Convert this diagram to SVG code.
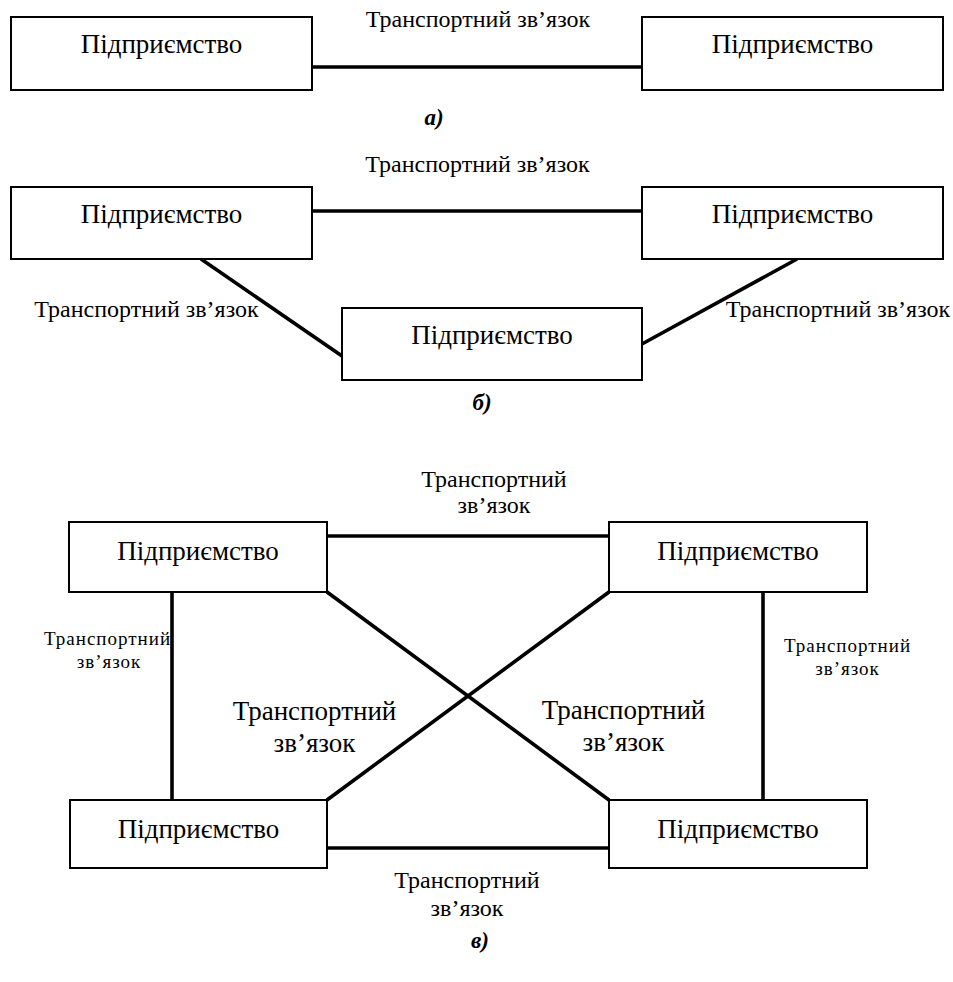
<svg xmlns="http://www.w3.org/2000/svg" width="953" height="982" viewBox="0 0 953 982">
<style>
.box{fill:#fff;stroke:#000;stroke-width:2}
.c{stroke:#000;stroke-width:3.6;fill:none}
text{font-family:"Liberation Serif","Times New Roman",serif;fill:#000;text-anchor:middle}
.n{font-size:27px}
.t{font-size:24px}
.m{font-size:27px}
.s{font-size:19px;letter-spacing:1px}
.cap{font-size:23px;font-weight:bold;font-style:italic}
</style>
<rect width="953" height="982" fill="#fff"/>
<g id="connectors">
<line class="c" x1="312" y1="67" x2="642" y2="67"/>
<line class="c" x1="312" y1="211" x2="642" y2="211"/>
<line class="c" x1="201" y1="259" x2="342" y2="356"/>
<line class="c" x1="797" y1="259" x2="642" y2="344"/>
<line class="c" x1="327" y1="536" x2="609" y2="536"/>
<line class="c" x1="327" y1="848" x2="609" y2="848"/>
<line class="c" x1="172" y1="592" x2="172" y2="800"/>
<line class="c" x1="763" y1="592" x2="763" y2="800"/>
<line class="c" x1="327" y1="592" x2="609" y2="800"/>
<line class="c" x1="609" y1="592" x2="327" y2="800"/>
</g>
<g id="a-node1"><rect class="box" x="11" y="17" width="301" height="73"/><text class="n" x="161.5" y="53">Підприємство</text></g>
<g id="a-node2"><rect class="box" x="642" y="17" width="301" height="73"/><text class="n" x="792.5" y="53">Підприємство</text></g>
<g id="b-node1"><rect class="box" x="11" y="187" width="301" height="72"/><text class="n" x="161.5" y="223">Підприємство</text></g>
<g id="b-node2"><rect class="box" x="642" y="187" width="301" height="72"/><text class="n" x="792.5" y="223">Підприємство</text></g>
<g id="b-node3"><rect class="box" x="342" y="308" width="300" height="72"/><text class="n" x="492" y="344">Підприємство</text></g>
<g id="c-node1"><rect class="box" x="69" y="522" width="258" height="70"/><text class="n" x="198" y="560">Підприємство</text></g>
<g id="c-node2"><rect class="box" x="609" y="522" width="258" height="70"/><text class="n" x="738" y="560">Підприємство</text></g>
<g id="c-node3"><rect class="box" x="70" y="800" width="257" height="68"/><text class="n" x="198.5" y="838">Підприємство</text></g>
<g id="c-node4"><rect class="box" x="609" y="800" width="258" height="68"/><text class="n" x="738" y="838">Підприємство</text></g>
<g id="labels">
<text class="t" x="478" y="27">Транспортний зв’язок</text>
<text class="cap" x="434" y="125">а)</text>
<text class="t" x="477.5" y="172">Транспортний зв’язок</text>
<text class="t" x="146.5" y="317">Транспортний зв’язок</text>
<text class="t" x="838" y="317">Транспортний зв’язок</text>
<text class="cap" x="482" y="410">б)</text>
<text class="t" x="494" y="487">Транспортний</text>
<text class="t" x="494" y="513">зв’язок</text>
<text class="s" x="107.5" y="645">Транспортний</text>
<text class="s" x="109" y="668">зв’язок</text>
<text class="s" x="847.5" y="652">Транспортний</text>
<text class="s" x="847.5" y="675">зв’язок</text>
<text class="m" x="314.5" y="720">Транспортний</text>
<text class="m" x="314.5" y="752">зв’язок</text>
<text class="m" x="623.5" y="719">Транспортний</text>
<text class="m" x="623.5" y="751">зв’язок</text>
<text class="t" x="467" y="888">Транспортний</text>
<text class="t" x="467" y="916">зв’язок</text>
<text class="cap" x="480" y="948">в)</text>
</g>
</svg>
